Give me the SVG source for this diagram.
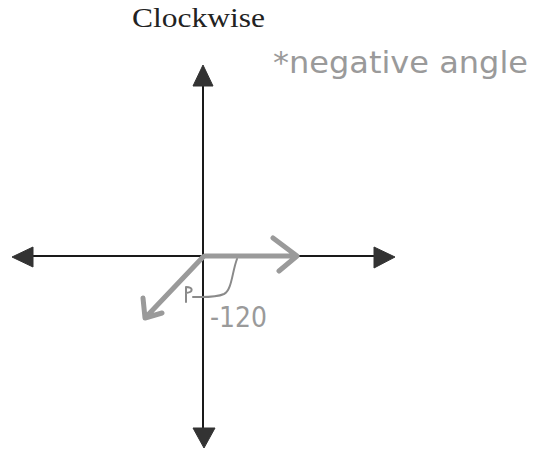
<svg xmlns="http://www.w3.org/2000/svg" width="537" height="452" viewBox="0 0 537 452">
<style>
.axis{stroke:#1a1a1a;stroke-width:2;fill:none}
.head{fill:#333;stroke:#333;stroke-width:1;stroke-linejoin:round}
.pen{stroke:#9a9a9a;stroke-width:5;fill:none;stroke-linecap:round;stroke-linejoin:round}
.thin{stroke:#8a8a8a;stroke-width:2;fill:none;stroke-linecap:round;stroke-linejoin:round}
.title{font-family:"Liberation Serif","Times New Roman",serif;font-size:28px;fill:#222}
.hand{font-family:"DejaVu Sans","Liberation Sans",sans-serif;fill:#9a9a9a}
</style>
<rect width="537" height="452" fill="#ffffff"/>
<g id="title"><text class="title" x="132" y="27" textLength="133" lengthAdjust="spacingAndGlyphs">Clockwise</text></g>
<g id="note"><text class="hand" x="273" y="73" font-size="30" textLength="255" lengthAdjust="spacingAndGlyphs">*negative angle</text></g>
<g id="axes">
<line class="axis" x1="203" y1="80" x2="203" y2="432"/>
<line class="axis" x1="28" y1="256" x2="378" y2="256"/>
<polygon class="head" points="203,65 193,86 213,86"/>
<polygon class="head" points="204,448 193,428 215,428"/>
<polygon class="head" points="12,257 33,247 33,267"/>
<polygon class="head" points="395,257 374,247 374,268"/>
</g>
<g id="connectors">
<path class="pen" d="M205,256 L296,256 M273,238 L297,256 L279,271"/>
<path class="pen" d="M203,257 L146,317 M143,298 L145,318 L162,313"/>
<path class="thin" d="M237,259 C232,272 232,290 224,294 C215,298 202,297 193,297"/>
<path class="thin" d="M186,302 L186,287 C193,287 194,292 186,293"/>
</g>
<g id="label"><text class="hand" x="210" y="327" font-size="28" textLength="57" lengthAdjust="spacingAndGlyphs">-120</text></g>
</svg>
